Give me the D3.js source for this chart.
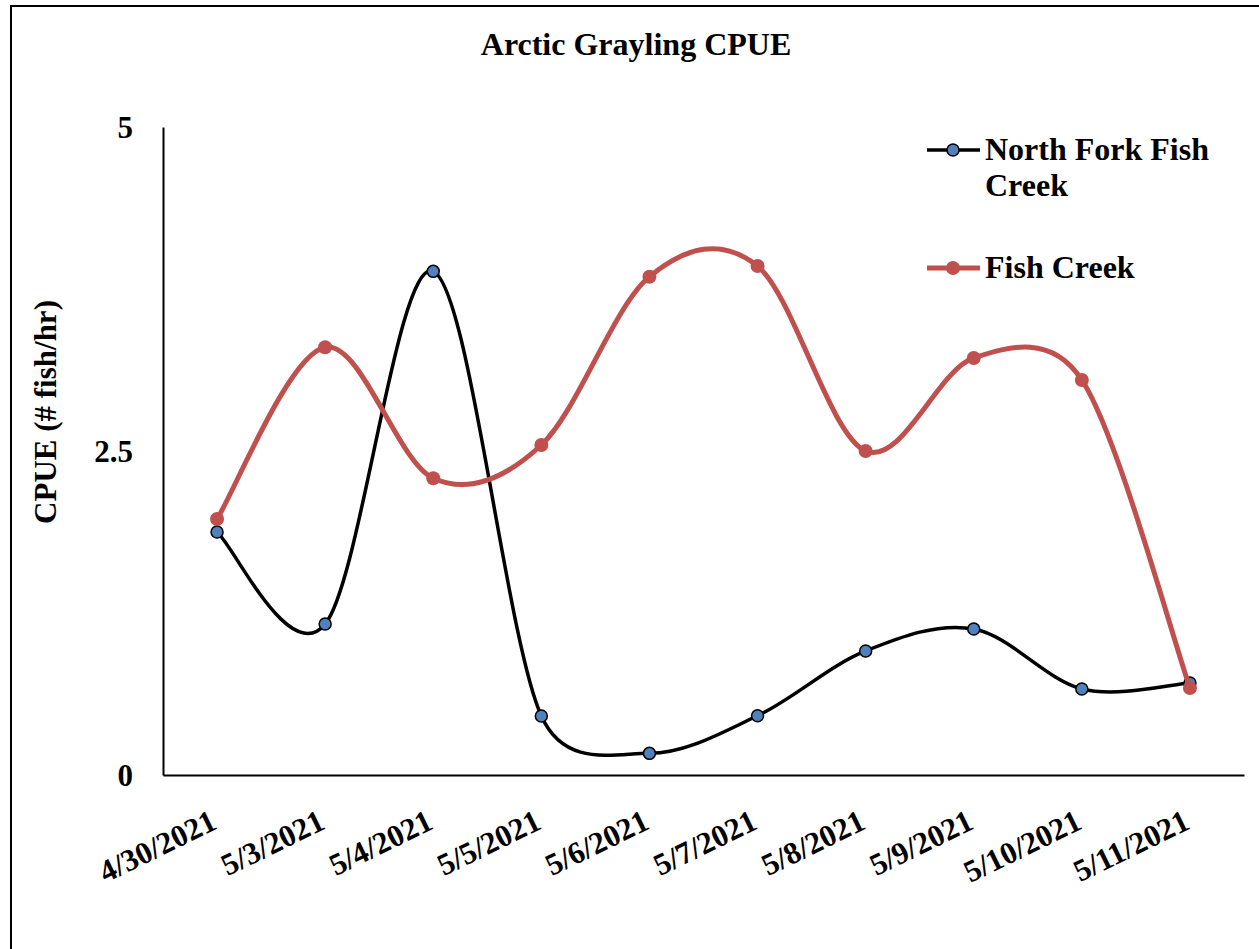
<!DOCTYPE html>
<html>
<head>
<meta charset="utf-8">
<script src="https://cdn.jsdelivr.net/npm/d3@7"></script>
<style>
  body { margin: 0; background: #fff; }
  text { font-family: "Liberation Serif", "Times New Roman", serif; font-weight: bold; fill: #000; }
</style>
</head>
<body>
<div id="chart"></div>
<script>
// data
const dates = ["4/30/2021", "5/3/2021", "5/4/2021", "5/5/2021", "5/6/2021",
               "5/7/2021", "5/8/2021", "5/9/2021", "5/10/2021", "5/11/2021"];
const northFork = [1.875, 1.165, 3.886, 0.455, 0.167, 0.457, 0.957, 1.127, 0.664, 0.71];
const fishCreek = [1.975, 3.30, 2.29, 2.546, 3.845, 3.927, 2.50, 3.218, 3.048, 0.671];
const yTicks = [0, 2.5, 5];

const width = 1259, height = 949;
const plotLeft = 163, plotRight = 1244, plotTop = 127, plotBottom = 775;

const svg = d3.select("#chart").append("svg")
  .attr("width", width)
  .attr("height", height);

// outer frame (right/bottom run off the page)
svg.append("rect")
  .attr("x", 11).attr("y", 6)
  .attr("width", 1300).attr("height", 1000)
  .attr("fill", "none").attr("stroke", "#000").attr("stroke-width", 2);

const x = d3.scalePoint().domain(dates).range([plotLeft, plotRight]).padding(0.5);
const y = d3.scaleLinear().domain([0, 5]).range([plotBottom, plotTop]);

// title
svg.append("text")
  .attr("x", 636).attr("y", 55)
  .attr("text-anchor", "middle")
  .style("font-size", "32px")
  .text("Arctic Grayling CPUE");

// axes
const yAxis = svg.append("g")
  .attr("transform", `translate(${plotLeft},0)`)
  .call(d3.axisLeft(y).tickValues(yTicks).tickSize(0).tickPadding(30).tickFormat(d3.format("")));
yAxis.select(".domain").attr("stroke", "#000").attr("stroke-width", 2);
yAxis.selectAll("text").style("font-size", "31px").attr("dy", "0.34em");

const xAxis = svg.append("g")
  .attr("transform", `translate(0,${plotBottom})`)
  .call(d3.axisBottom(x).tickSize(0));
xAxis.select(".domain").attr("stroke", "#000").attr("stroke-width", 2);
xAxis.selectAll("text")
  .style("font-size", "31px")
  .attr("text-anchor", "end")
  .attr("y", 0).attr("dy", 0)
  .attr("transform", "translate(1,53) rotate(-26)");

// y label
svg.append("text")
  .attr("transform", "translate(56,412) rotate(-90)")
  .attr("text-anchor", "middle")
  .style("font-size", "31px")
  .text("CPUE (# fish/hr)");

// Excel-like smoothing: cardinal bezier arms, clamped to half the segment
function smoothPath(vals) {
  const p = vals.map((v, i) => [x(dates[i]), y(v)]);
  const n = p.length;
  const path = d3.path();
  const arm = (a, b, segLen) => {
    let dx = (b[0] - a[0]) / 6, dy = (b[1] - a[1]) / 6;
    const len = Math.hypot(dx, dy);
    if (len > segLen / 2) { const k = (segLen / 2) / len; dx *= k; dy *= k; }
    return [dx, dy];
  };
  path.moveTo(p[0][0], p[0][1]);
  for (let i = 0; i < n - 1; i++) {
    const p0 = p[Math.max(i - 1, 0)], p1 = p[i], p2 = p[i + 1], p3 = p[Math.min(i + 2, n - 1)];
    const seg = Math.hypot(p2[0] - p1[0], p2[1] - p1[1]);
    const a1 = arm(p0, p2, seg), a2 = arm(p1, p3, seg);
    path.bezierCurveTo(p1[0] + a1[0], p1[1] + a1[1], p2[0] - a2[0], p2[1] - a2[1], p2[0], p2[1]);
  }
  return path.toString();
}

svg.append("path")
  .attr("d", smoothPath(northFork))
  .attr("fill", "none").attr("stroke", "#000").attr("stroke-width", 3.5);

svg.selectAll(".nf").data(northFork).enter().append("circle")
  .attr("class", "nf")
  .attr("cx", (d, i) => x(dates[i]))
  .attr("cy", d => y(d))
  .attr("r", 6)
  .attr("fill", "#4f81bd").attr("stroke", "#000").attr("stroke-width", 1.5);

svg.append("path")
  .attr("d", smoothPath(fishCreek))
  .attr("fill", "none").attr("stroke", "#c0504d").attr("stroke-width", 5);

svg.selectAll(".fc").data(fishCreek).enter().append("circle")
  .attr("class", "fc")
  .attr("cx", (d, i) => x(dates[i]))
  .attr("cy", d => y(d))
  .attr("r", 7)
  .attr("fill", "#c0504d");

// legend
const legend = svg.append("g");
legend.append("line")
  .attr("x1", 927).attr("x2", 980).attr("y1", 150).attr("y2", 150)
  .attr("stroke", "#000").attr("stroke-width", 3.5);
legend.append("circle")
  .attr("cx", 953).attr("cy", 150).attr("r", 6)
  .attr("fill", "#4f81bd").attr("stroke", "#000").attr("stroke-width", 1.5);
const nfLabel = legend.append("text")
  .attr("x", 985).attr("y", 160)
  .style("font-size", "32px");
nfLabel.append("tspan").attr("x", 985).text("North Fork Fish");
nfLabel.append("tspan").attr("x", 985).attr("dy", 36).text("Creek");

legend.append("line")
  .attr("x1", 927).attr("x2", 980).attr("y1", 268).attr("y2", 268)
  .attr("stroke", "#c0504d").attr("stroke-width", 5);
legend.append("circle")
  .attr("cx", 953).attr("cy", 268).attr("r", 7)
  .attr("fill", "#c0504d");
legend.append("text")
  .attr("x", 985).attr("y", 278)
  .style("font-size", "32px")
  .text("Fish Creek");
</script>
</body>
</html>
